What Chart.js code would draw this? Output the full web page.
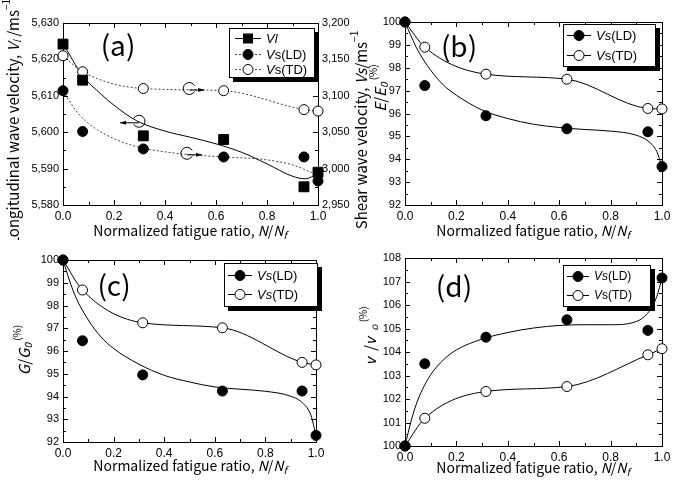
<!DOCTYPE html>
<html>
<head>
<meta charset="utf-8">
<script src="https://cdn.jsdelivr.net/npm/chart.js@4/dist/chart.umd.min.js"></script>
<style>
  body { margin: 0; background: #fff; width: 685px; height: 481px; position: relative; overflow: hidden; }
  canvas { position: absolute; }
</style>
</head>
<body>
<canvas id="chartA" width="400" height="240" style="left:0;top:0"></canvas>
<canvas id="chartB" width="345" height="240" style="left:340px;top:0"></canvas>
<canvas id="chartC" width="345" height="241" style="left:0;top:240px"></canvas>
<canvas id="chartD" width="345" height="241" style="left:340px;top:240px"></canvas>
<script>
// measured points: normalized fatigue ratio N/Nf
var fatigueRatio = [0, 0.077, 0.315, 0.63, 0.945, 1.0];

// (a) velocities, m/s
var vlVelocity = [5624.2, 5614.3, 5599.0, 5598.0, 5585.0, 5589.0];
var vsLdVelocity = [3107, 3051, 3027, 3016, 3016, 2983];
var vsTdVelocity = [3155, 3133, 3110, 3107, 3081, 3079];
// (a) fitted curves
var vlCurveRatio = [0, 0.077, 0.15, 0.2, 0.29, 0.4, 0.5, 0.6, 0.7, 0.8, 0.9, 0.95, 1.0];
var vlCurve = [5624.4, 5615.5, 5610.4, 5607.4, 5603.1, 5600.3, 5598.6, 5596.8, 5594.5, 5591.3, 5587.9, 5587.2, 5588.6];
var ldCurveRatioA = [0, 0.05, 0.1, 0.2, 0.315, 0.4, 0.5, 0.63, 0.8, 0.9, 1.0];
var vsLdCurveA = [3107, 3080, 3062, 3041, 3028, 3023, 3019, 3016, 3012, 3005, 2991];

// (b) E/E0 (%)
var eLd = [100, 97.22, 95.9, 95.33, 95.2, 93.68];
var eTd = [100, 98.9, 97.72, 97.5, 96.22, 96.2];
// (c) G/G0 (%)
var gLd = [100, 96.45, 94.95, 94.24, 94.24, 92.29];
var gTd = [100, 98.68, 97.24, 97.02, 95.5, 95.39];
// (d) v/v0 (%)
var nuLd = [100, 103.5, 104.63, 105.37, 104.92, 107.15];
var nuTd = [100, 101.18, 102.32, 102.53, 103.88, 104.14];

// LD fitted curves of (b)-(d)
var ldCurveRatio = [0, 0.025, 0.05, 0.1, 0.15, 0.2, 0.3, 0.4, 0.5, 0.6, 0.7, 0.8, 0.9, 0.95, 0.98, 1.0];
var eLdCurve = [100, 99.35, 98.76, 97.89, 97.24, 96.8, 96.15, 95.78, 95.53, 95.39, 95.3, 95.23, 95.05, 94.76, 94.33, 93.67];
var gLdCurve = [100, 99.12, 98.38, 97.36, 96.62, 96.11, 95.42, 94.93, 94.64, 94.42, 94.32, 94.23, 94.01, 93.69, 93.17, 92.29];
var nuLdCurve = [100, 101.11, 101.96, 103.03, 103.67, 104.09, 104.55, 104.83, 105.02, 105.13, 105.16, 105.16, 105.3, 105.73, 106.37, 107.15];

var TICK_FONT = "Liberation Sans";
var TEXT_FONT = "'Noto Sans CJK JP', 'Liberation Sans'";

function xy(xs, ys) {
  return xs.map(function(x, i) { return {x: x, y: ys[i]}; });
}

function marks(values, kind, axis) {
  var ds = {
    data: xy(fatigueRatio, values),
    showLine: false,
    pointStyle: kind == "rect" ? "rect" : "circle",
    pointRadius: kind == "rect" ? 7 : 5,
    pointBackgroundColor: kind == "open" ? "#fff" : "#000",
    pointBorderColor: "#000",
    pointBorderWidth: 1,
    clip: false,
    order: 1
  };
  if (axis) ds.yAxisID = axis;
  return ds;
}

function curve(xs, ys, dotted, axis) {
  var ds = {
    data: xy(xs, ys),
    pointRadius: 0,
    borderColor: dotted ? "#444" : "#000",
    borderWidth: 1,
    borderDash: dotted ? [2, 2] : [],
    cubicInterpolationMode: "monotone",
    fill: false,
    order: 2
  };
  if (axis) ds.yAxisID = axis;
  return ds;
}

// draws a run of text parts, some italic / sub / superscript
function drawRuns(ctx, runs, x, y, size, family, measureOnly) {
  var cx = x;
  runs.forEach(function(r) {
    var fs = (r.sub || r.sup) ? Math.round(size * 0.68) : size;
    ctx.font = (r.it ? "italic " : "") + fs + "px " + family;
    var dy = r.sub ? size * 0.3 : (r.sup ? -size * 0.42 : 0);
    if (!measureOnly) ctx.fillText(r.t, cx, y + dy);
    cx += ctx.measureText(r.t).width;
  });
  return cx - x;
}

function drawLabel(ctx, lab) {
  ctx.save();
  ctx.fillStyle = "#000";
  ctx.textBaseline = "middle";
  ctx.textAlign = "left";
  var fam = lab.family || TEXT_FONT;
  var w = drawRuns(ctx, lab.runs, 0, 0, lab.size, fam, true);
  ctx.translate(lab.x, lab.y);
  if (lab.rot) ctx.rotate(-Math.PI / 2);
  drawRuns(ctx, lab.runs, -w / 2, 0, lab.size, fam, false);
  ctx.restore();
}

var paperPlugin = {
  id: "paper",
  beforeDatasetsDraw: function(chart, args, o) {
    var ctx = chart.ctx, a = chart.chartArea;
    var xs = chart.scales.x, ys = chart.scales.y;
    ctx.save();
    ctx.strokeStyle = "#000";
    ctx.lineWidth = 1;
    ctx.strokeRect(Math.round(a.left) + 0.5, Math.round(a.top) + 0.5,
      Math.round(a.right - a.left), Math.round(a.bottom - a.top));
    ctx.beginPath();
    var n = Math.round((xs.max - xs.min) / o.xMinor), every = Math.round(o.xMajor / o.xMinor);
    for (var i = 0; i <= n; i++) {
      var px = Math.round(xs.getPixelForValue(xs.min + i * o.xMinor)) + 0.5;
      var len = i % every == 0 ? 5 : 3;
      ctx.moveTo(px, a.bottom); ctx.lineTo(px, a.bottom - len);
      ctx.moveTo(px, a.top); ctx.lineTo(px, a.top + len);
    }
    n = Math.round((ys.max - ys.min) / o.yMinor); every = Math.round(o.yMajor / o.yMinor);
    for (i = 0; i <= n; i++) {
      var py = Math.round(ys.getPixelForValue(ys.min + i * o.yMinor)) + 0.5;
      len = i % every == 0 ? 5 : 3;
      ctx.moveTo(a.left, py); ctx.lineTo(a.left + len, py);
      ctx.moveTo(a.right, py); ctx.lineTo(a.right - len, py);
    }
    ctx.stroke();
    ctx.restore();
  },
  afterDatasetsDraw: function(chart, args, o) {
    var ctx = chart.ctx;
    // circle-and-arrow marks telling which axis a curve belongs to
    (o.arrows || []).forEach(function(m) {
      var px = chart.scales.x.getPixelForValue(m.x);
      var py = chart.scales[m.axis].getPixelForValue(m.y);
      var r = 6, gap = 0.5;
      ctx.save();
      ctx.strokeStyle = "#000";
      ctx.lineWidth = 1;
      ctx.beginPath();
      if (m.dir > 0) ctx.arc(px, py, r, gap, Math.PI * 2 - gap);
      else ctx.arc(px, py, r, Math.PI + gap, Math.PI - gap);
      ctx.stroke();
      var y0 = py + 1.5, x1 = px + m.dir * m.len;
      ctx.beginPath();
      ctx.moveTo(px, y0); ctx.lineTo(x1, y0); ctx.stroke();
      ctx.beginPath();
      ctx.moveTo(x1, y0);
      ctx.lineTo(x1 - m.dir * 6, y0 - 2);
      ctx.lineTo(x1 - m.dir * 6, y0 + 2);
      ctx.closePath();
      ctx.fillStyle = "#000";
      ctx.fill();
      ctx.restore();
    });
    // boxed legend with drop shadow
    var lg = o.legend;
    if (lg) {
      ctx.save();
      ctx.fillStyle = "#000";
      ctx.fillRect(lg.x + 4, lg.y + 4, lg.w, lg.h);
      ctx.fillStyle = "#fff";
      ctx.fillRect(lg.x, lg.y, lg.w, lg.h);
      ctx.strokeStyle = "#000";
      ctx.lineWidth = 1;
      ctx.strokeRect(lg.x + 0.5, lg.y + 0.5, lg.w - 1, lg.h - 1);
      lg.items.forEach(function(it, k) {
        var yy = lg.y + lg.rows[k];
        ctx.save();
        ctx.strokeStyle = it.dotted ? "#444" : "#000";
        ctx.setLineDash(it.dotted ? [2, 2] : []);
        ctx.beginPath();
        ctx.moveTo(lg.x + lg.line[0], yy + 0.5);
        ctx.lineTo(lg.x + lg.line[1], yy + 0.5);
        ctx.stroke();
        ctx.restore();
        var mx = lg.x + lg.mark;
        ctx.beginPath();
        if (it.kind == "rect") {
          ctx.fillStyle = "#000";
          ctx.fillRect(mx - 5, yy - 4.5, 10, 10);
        } else {
          ctx.arc(mx, yy + 0.5, 5, 0, Math.PI * 2);
          ctx.fillStyle = it.kind == "open" ? "#fff" : "#000";
          ctx.fill();
          ctx.strokeStyle = "#000";
          ctx.stroke();
        }
        ctx.fillStyle = "#000";
        ctx.textBaseline = "middle";
        drawRuns(ctx, it.runs, lg.x + lg.text, yy + 1, lg.size, "'Liberation Sans'", false);
      });
      ctx.restore();
    }
    (o.labels || []).forEach(function(lab) { drawLabel(chart.ctx, lab); });
  }
};

function paperChart(id, datasets, s) {
  var tickFont = {family: TICK_FONT, size: 11};
  var scales = {
    x: {
      type: "linear", min: 0, max: 1,
      grid: {display: false, drawTicks: false}, border: {display: false},
      ticks: {stepSize: 0.2, padding: 4, color: "#000", font: {family: TICK_FONT, size: 12}, maxRotation: 0, autoSkip: false,
        callback: function(v) { return v.toFixed(1); }},
      afterFit: function(sc) { sc.height = s.bottom; }
    },
    y: {
      type: "linear", position: "left", min: s.yMin, max: s.yMax,
      grid: {display: false, drawTicks: false}, border: {display: false},
      ticks: {stepSize: s.yMajor, padding: 4, color: "#000", font: tickFont, autoSkip: false,
        callback: function(v) { return v.toLocaleString("en-US"); }},
      afterFit: function(sc) { sc.width = s.left; }
    }
  };
  if (s.y2) {
    scales.y2 = {
      type: "linear", position: "right", min: s.y2.min, max: s.y2.max,
      grid: {display: false, drawTicks: false}, border: {display: false},
      ticks: {stepSize: s.y2.step, padding: 4, color: "#000", font: tickFont, autoSkip: false,
        callback: function(v) { return v.toLocaleString("en-US"); }},
      afterFit: function(sc) { sc.width = s.y2.width; }
    };
  }
  return new Chart(document.getElementById(id), {
    type: "line",
    data: {datasets: datasets},
    options: {
      responsive: false,
      animation: false,
      events: [],
      layout: {padding: {top: s.top, right: s.right || 0, left: 0, bottom: 0}},
      plugins: {legend: {display: false}, tooltip: {enabled: false}, paper: s},
      scales: scales
    },
    plugins: [paperPlugin]
  });
}

var xTitle = [{t: "Normalized fatigue ratio, "}, {t: "N", it: true}, {t: "/"}, {t: "N", it: true}, {t: "f", it: true, sub: true}];
function vsRuns(tag, italicS) { return [{t: "V", it: true}, {t: "s", it: italicS}, {t: tag}]; }

// (a)
paperChart("chartA", [
  marks(vlVelocity, "rect"),
  marks(vsLdVelocity, "dot", "y2"),
  marks(vsTdVelocity, "open", "y2"),
  curve(vlCurveRatio, vlCurve, false),
  curve(ldCurveRatioA, vsLdCurveA, true, "y2"),
  curve(fatigueRatio, vsTdVelocity, true, "y2")
], {
  top: 23, bottom: 35, left: 63,
  yMin: 5580, yMax: 5630, yMajor: 10, yMinor: 5, xMajor: 0.2, xMinor: 0.1,
  y2: {min: 2950, max: 3200, step: 50, width: 82},
  arrows: [
    {x: 0.298, y: 5603, axis: "y", dir: -1, len: 19},
    {x: 0.495, y: 3110, axis: "y2", dir: 1, len: 15},
    {x: 0.486, y: 3021, axis: "y2", dir: 1, len: 15}
  ],
  legend: {x: 229, y: 28, w: 86, h: 50, rows: [10, 26, 41], line: [6, 32], mark: 19, text: 37, size: 13,
    items: [
      {kind: "rect", dotted: false, runs: [{t: "Vl", it: true}]},
      {kind: "dot", dotted: true, runs: vsRuns("(LD)", false)},
      {kind: "open", dotted: true, runs: vsRuns("(TD)", false)}
    ]},
  labels: [
    {runs: [{t: "(a)"}], x: 118, y: 45, size: 28},
    {runs: [{t: "Longitudinal wave velocity, "}, {t: "V", it: true}, {t: "l", it: true, sub: true}, {t: " /ms"}, {t: "\u22121", sup: true}], x: 13, y: 122, size: 15, rot: true},
    {runs: [{t: "Shear wave velocity, "}, {t: "Vs", it: true}, {t: "/ms"}, {t: "\u22121", sup: true}], x: 361, y: 130, size: 15, rot: true},
    {runs: xTitle, x: 190, y: 231, size: 14}
  ]
});

// (b)
paperChart("chartB", [
  marks(eLd, "dot"),
  marks(eTd, "open"),
  curve(ldCurveRatio, eLdCurve, false),
  curve(fatigueRatio, eTd, false)
], {
  top: 22, bottom: 35, left: 65, right: 23,
  yMin: 92, yMax: 100, yMajor: 1, yMinor: 0.5, xMajor: 0.2, xMinor: 0.1,
  legend: {x: 223, y: 24, w: 93, h: 43, rows: [11, 31], line: [4, 28], mark: 16, text: 33, size: 13,
    items: [
      {kind: "dot", runs: vsRuns("(LD)", true)},
      {kind: "open", runs: vsRuns("(TD)", false)}
    ]},
  labels: [
    {runs: [{t: "(b)"}], x: 119, y: 46, size: 28},
    {runs: [{t: "E", it: true}, {t: "/"}, {t: "E", it: true}, {t: "0", it: true, sub: true}, {t: " (%)", sup: true}], x: 40, y: 88, size: 15, rot: true},
    {runs: xTitle, x: 193, y: 231, size: 14}
  ]
});

// (c)
paperChart("chartC", [
  marks(gLd, "dot"),
  marks(gTd, "open"),
  curve(ldCurveRatio, gLdCurve, false),
  curve(fatigueRatio, gTd, false)
], {
  top: 20, bottom: 39, left: 63, right: 29,
  yMin: 92, yMax: 100, yMajor: 1, yMinor: 0.5, xMajor: 0.2, xMinor: 0.1,
  legend: {x: 224, y: 23, w: 94, h: 44, rows: [12, 31], line: [4, 28], mark: 16, text: 33, size: 13,
    items: [
      {kind: "dot", runs: vsRuns("(LD)", true)},
      {kind: "open", runs: vsRuns("(TD)", true)}
    ]},
  labels: [
    {runs: [{t: "(c)"}], x: 114, y: 45, size: 28},
    {runs: [{t: "G", it: true}, {t: "/"}, {t: "G", it: true}, {t: "0", it: true, sub: true}, {t: " (%)", sup: true}], x: 24, y: 110, size: 15, rot: true},
    {runs: xTitle, x: 190, y: 226, size: 14}
  ]
});

// (d)
paperChart("chartD", [
  marks(nuLd, "dot"),
  marks(nuTd, "open"),
  curve(ldCurveRatio, nuLdCurve, false),
  curve(fatigueRatio, nuTd, false)
], {
  top: 18, bottom: 35, left: 65, right: 23,
  yMin: 100, yMax: 108, yMajor: 1, yMinor: 0.5, xMajor: 0.2, xMinor: 0.1,
  legend: {x: 223, y: 25, w: 88, h: 42, rows: [11, 30], line: [4, 26], mark: 15, text: 31, size: 12,
    items: [
      {kind: "dot", runs: vsRuns("(LD)", true)},
      {kind: "open", runs: vsRuns("(TD)", false)}
    ]},
  labels: [
    {runs: [{t: "(d)"}], x: 114, y: 46, size: 28},
    {runs: [{t: "v", it: true}, {t: "  /"}, {t: "v", it: true}, {t: "  "}, {t: "o", it: true, sub: true}, {t: " (%)", sup: true}], x: 30, y: 96, size: 15, rot: true},
    {runs: xTitle, x: 193, y: 228, size: 14}
  ]
});
</script>
</body>
</html>
